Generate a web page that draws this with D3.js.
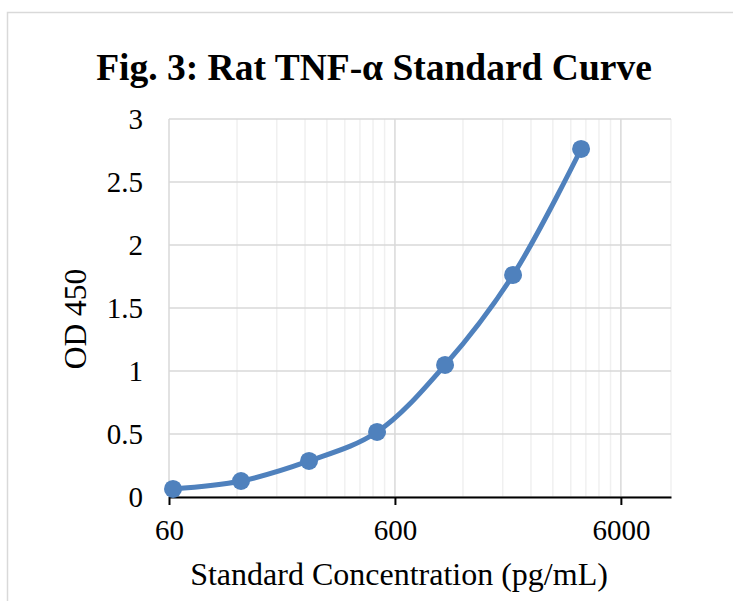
<!DOCTYPE html>
<html>
<head>
<meta charset="utf-8">
<script src="https://cdn.jsdelivr.net/npm/d3@7"></script>
<style>
  body { margin: 0; background: #fff; }
  text { font-family: "Liberation Serif", "Times New Roman", serif; fill: #000; }
</style>
</head>
<body>
<div id="chart"></div>
<script>
(function () {

  // Data
  const concentrations = [62.5, 125, 250, 500, 1000, 2000, 4000]
  const odValues = [0.064, 0.127, 0.286, 0.516, 1.048, 1.762, 2.762]
  const xTicks = [60, 600, 6000]
  const yTicks = [0, 0.5, 1, 1.5, 2, 2.5, 3]

  const points = concentrations.map((c, i) => ({ x: c, y: odValues[i] }))

  const W = 733, H = 601
  const margin = { top: 119, right: 62, bottom: 104, left: 169 }
  const width = W - margin.left - margin.right
  const height = H - margin.top - margin.bottom

  const svg = d3.select("#chart").append("svg")
      .attr("width", W)
      .attr("height", H)

  // outer chart border (cropped on right and bottom)
  svg.append("rect")
      .attr("x", 7.5).attr("y", 12.5)
      .attr("width", W + 20).attr("height", H + 20)
      .attr("fill", "none")
      .attr("stroke", "#d9d9d9")
      .attr("stroke-width", 1.5)

  const g = svg.append("g")
      .attr("transform", "translate(" + margin.left + "," + margin.top + ")")

  const x = d3.scaleLog().domain([60, 10000]).range([0, width])
  const y = d3.scaleLinear().domain([0, 3]).range([height, 0])

  // minor vertical gridlines (multiples of each decade start)
  const minors = []
  ;[60, 600, 6000].forEach(base => {
    for (let k = 2; k <= 9; k++) {
      if (base * k < 10000) minors.push(base * k)
    }
  })
  minors.push(10000)

  g.selectAll(".minor")
    .data(minors)
    .join("line")
      .attr("x1", d => x(d)).attr("x2", d => x(d))
      .attr("y1", 0).attr("y2", height)
      .attr("stroke", "#f0f0f0")
      .attr("stroke-width", 1.5)

  // major vertical gridlines
  g.selectAll(".majorx")
    .data(xTicks)
    .join("line")
      .attr("x1", d => x(d)).attr("x2", d => x(d))
      .attr("y1", 0).attr("y2", height)
      .attr("stroke", "#d9d9d9")
      .attr("stroke-width", 1.5)

  // horizontal gridlines
  g.selectAll(".majory")
    .data(yTicks)
    .join("line")
      .attr("x1", 0).attr("x2", width)
      .attr("y1", d => y(d)).attr("y2", d => y(d))
      .attr("stroke", "#d9d9d9")
      .attr("stroke-width", 1.5)

  // x axis
  const xAxis = g.append("g")
      .attr("transform", "translate(0," + height + ")")
      .call(d3.axisBottom(x).tickValues(xTicks).tickFormat(d3.format("d")).tickSizeInner(8).tickSizeOuter(0).tickPadding(14))
  xAxis.select(".domain").attr("stroke", "#000").attr("stroke-width", 2)
  xAxis.selectAll(".tick line").attr("stroke", "#000").attr("stroke-width", 2)
  xAxis.selectAll("text").attr("font-size", 29)

  // y axis labels
  const yAxis = g.append("g")
      .call(d3.axisLeft(y).tickValues(yTicks).tickFormat(d => d).tickSize(0).tickPadding(26))
  yAxis.select(".domain").remove()
  yAxis.selectAll("text").attr("font-size", 29)

  // curve
  const line = d3.line()
      .x(d => x(d.x))
      .y(d => y(d.y))
      .curve(d3.curveCatmullRom.alpha(0.5))

  g.append("path")
      .datum(points)
      .attr("d", line)
      .attr("fill", "none")
      .attr("stroke", "#4f81bd")
      .attr("stroke-width", 5)
      .attr("stroke-linecap", "round")

  g.selectAll(".dot")
    .data(points)
    .join("circle")
      .attr("cx", d => x(d.x))
      .attr("cy", d => y(d.y))
      .attr("r", 9)
      .attr("fill", "#4f81bd")

  // titles
  svg.append("text")
      .attr("x", 374).attr("y", 80)
      .attr("text-anchor", "middle")
      .attr("font-size", 37.5)
      .attr("font-weight", "bold")
      .text("Fig. 3: Rat TNF-α Standard Curve")

  svg.append("text")
      .attr("x", 399).attr("y", 585)
      .attr("text-anchor", "middle")
      .attr("font-size", 32)
      .text("Standard Concentration (pg/mL)")

  svg.append("text")
      .attr("transform", "translate(86,319) rotate(-90)")
      .attr("text-anchor", "middle")
      .attr("font-size", 31.5)
      .text("OD 450")

})();
</script>
</body>
</html>
